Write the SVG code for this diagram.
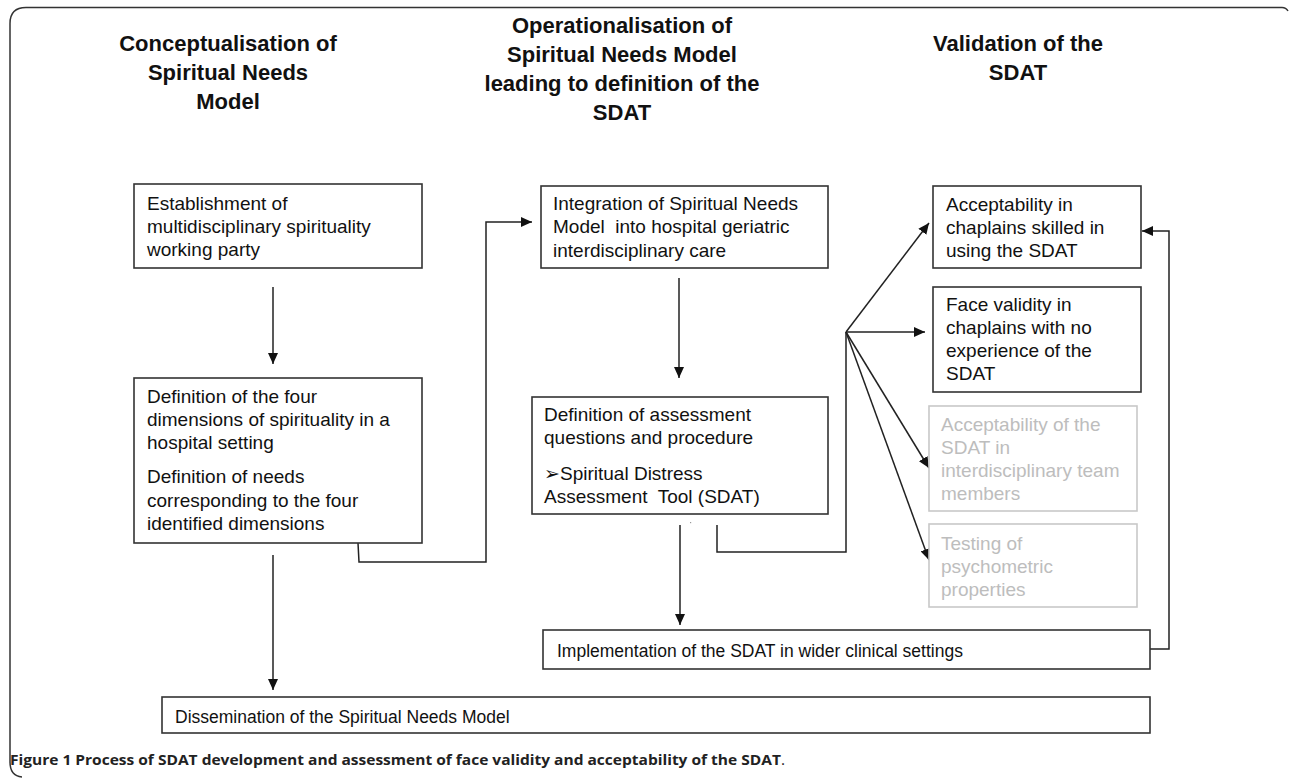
<svg xmlns="http://www.w3.org/2000/svg" width="1290" height="778" viewBox="0 0 1290 778">
<style>
.bg{fill:#ffffff}
.frame{fill:none;stroke:#333;stroke-width:1.5}
.box{fill:#ffffff;stroke:#333;stroke-width:1.6}
.gbox{fill:#ffffff;stroke:#c8c8c8;stroke-width:1.6}
.h{font-family:"Liberation Sans",Arial,sans-serif;font-weight:bold;font-size:22px;fill:#111;text-anchor:middle}
.t{font-family:"Liberation Sans",Arial,sans-serif;font-size:19px;fill:#111}
.ts{font-family:"Liberation Sans",Arial,sans-serif;font-size:17.5px;fill:#111}
.g{font-family:"Liberation Sans",Arial,sans-serif;font-size:19px;fill:#bdbdbd}
.c{fill:none;stroke:#222;stroke-width:1.5}
.cap{font-family:"Open Sans","Liberation Sans",sans-serif;font-size:15px;fill:#222}
</style>
<defs>
<marker id="ah" markerUnits="userSpaceOnUse" markerWidth="12" markerHeight="10" refX="11" refY="5" orient="auto">
<path d="M0,0 L11,5 L0,10 Z" fill="#111"/>
</marker>
</defs>
<rect class="bg" x="0" y="0" width="1290" height="778"/>
<path class="frame" d="M1288,11 Q1286,7.5 1282,7.5 L26,7.5 Q10,7.5 10,23.5 L10,762 Q10,776 22,777"/>

<g id="headings">
<text class="h" x="228" y="51">Conceptualisation of</text>
<text class="h" x="228" y="80">Spiritual Needs</text>
<text class="h" x="228" y="109">Model</text>
<text class="h" x="622" y="33">Operationalisation of</text>
<text class="h" x="622" y="62">Spiritual Needs Model</text>
<text class="h" x="622" y="91">leading to definition of the</text>
<text class="h" x="622" y="120">SDAT</text>
<text class="h" x="1018" y="51">Validation of the</text>
<text class="h" x="1018" y="80">SDAT</text>
</g>

<g id="connectors">
<line class="c" x1="273" y1="287" x2="273" y2="364" marker-end="url(#ah)"/>
<line class="c" x1="273" y1="555" x2="273" y2="690" marker-end="url(#ah)"/>
<polyline class="c" points="358,543 359,562 486,562 486,222 532,222" marker-end="url(#ah)"/>
<line class="c" x1="679" y1="278" x2="679" y2="378" marker-end="url(#ah)"/>
<line class="c" x1="680" y1="525" x2="680" y2="625" marker-end="url(#ah)"/>
<polyline class="c" points="717,525 717,552 846,552 846,332"/>
<line class="c" x1="846" y1="332" x2="929" y2="223" marker-end="url(#ah)"/>
<line class="c" x1="846" y1="332" x2="925" y2="332" marker-end="url(#ah)"/>
<line class="c" x1="846" y1="332" x2="929" y2="468" marker-end="url(#ah)"/>
<line class="c" x1="846" y1="332" x2="929" y2="560" marker-end="url(#ah)"/>
<polyline class="c" points="1150,649 1169,649 1169,231 1142,231" marker-end="url(#ah)"/>
</g>

<g id="node-establishment">
<rect class="box" x="134" y="184" width="288" height="84"/>
<text class="t" x="147" y="210">Establishment of</text>
<text class="t" x="147" y="233">multidisciplinary spirituality</text>
<text class="t" x="147" y="256">working party</text>
</g>

<g id="node-definition-dimensions">
<rect class="box" x="134" y="378" width="288" height="165"/>
<text class="t" x="147" y="403">Definition of the four</text>
<text class="t" x="147" y="426">dimensions of spirituality in a</text>
<text class="t" x="147" y="449">hospital setting</text>
<text class="t" x="147" y="483">Definition of needs</text>
<text class="t" x="147" y="507">corresponding to the four</text>
<text class="t" x="147" y="530">identified dimensions</text>
</g>

<g id="node-integration">
<rect class="box" x="541" y="186" width="287" height="82"/>
<text class="t" x="553" y="210">Integration of Spiritual Needs</text>
<text class="t" x="553" y="233" xml:space="preserve">Model  into hospital geriatric</text>
<text class="t" x="553" y="257">interdisciplinary care</text>
</g>

<g id="node-assessment">
<rect class="box" x="532" y="397" width="296" height="117"/>
<text class="t" x="544" y="421">Definition of assessment</text>
<text class="t" x="544" y="444">questions and procedure</text>
<text class="t" x="544" y="480">➢Spiritual Distress</text>
<text class="t" x="544" y="503" xml:space="preserve">Assessment  Tool (SDAT)</text>
<rect x="690" y="522" width="1.2" height="1.2" fill="#999"/>
</g>

<g id="node-acceptability-chaplains">
<rect class="box" x="933" y="186" width="208" height="82"/>
<text class="t" x="946" y="211">Acceptability in</text>
<text class="t" x="946" y="234">chaplains skilled in</text>
<text class="t" x="946" y="257">using the SDAT</text>
</g>

<g id="node-face-validity">
<rect class="box" x="933" y="287" width="208" height="105"/>
<text class="t" x="946" y="311">Face validity in</text>
<text class="t" x="946" y="334">chaplains with no</text>
<text class="t" x="946" y="357">experience of the</text>
<text class="t" x="946" y="380">SDAT</text>
</g>

<g id="node-acceptability-team">
<rect class="gbox" x="929" y="406" width="208" height="105"/>
<text class="g" x="941" y="431">Acceptability of the</text>
<text class="g" x="941" y="454">SDAT in</text>
<text class="g" x="941" y="477">interdisciplinary team</text>
<text class="g" x="941" y="500">members</text>
</g>

<g id="node-psychometric">
<rect class="gbox" x="929" y="524" width="208" height="83"/>
<text class="g" x="941" y="550">Testing of</text>
<text class="g" x="941" y="573">psychometric</text>
<text class="g" x="941" y="596">properties</text>
</g>

<g id="node-implementation">
<rect class="box" x="543" y="630" width="607" height="39"/>
<text class="ts" x="557" y="657">Implementation of the SDAT in wider clinical settings</text>
</g>

<g id="node-dissemination">
<rect class="box" x="162" y="697" width="988" height="36"/>
<text class="ts" x="175" y="723">Dissemination of the Spiritual Needs Model</text>
</g>

<g id="caption">
<text class="cap" x="10" y="765" textLength="775" lengthAdjust="spacingAndGlyphs"><tspan font-weight="bold">Figure 1 Process of SDAT development and assessment of face validity and acceptability of the SDAT</tspan>.</text>
</g>
</svg>
